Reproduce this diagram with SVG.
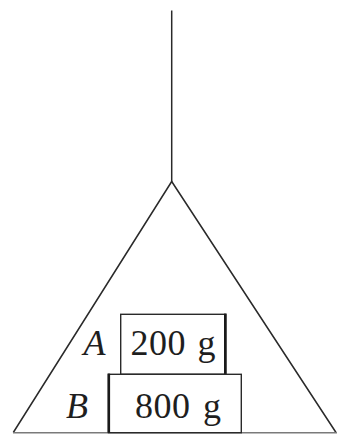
<svg xmlns="http://www.w3.org/2000/svg" width="337" height="436" viewBox="0 0 337 436">
<style>
.ln{stroke:#2a2a2a;stroke-width:1.5;fill:none;stroke-linecap:butt}
.bx{stroke:#2a2a2a;stroke-width:1.4;fill:#fff}
.thk{stroke:#1a1a1a;stroke-width:2.6}
.t{font-family:"Liberation Serif","Times New Roman",serif;font-size:36px;fill:#1e1e1e}
.it{font-style:italic}
</style>
<rect width="337" height="436" fill="#fff"/>
<g id="connectors">
<line class="ln" x1="171.7" y1="10.5" x2="171.7" y2="182"/>
<polyline class="ln" points="13.3,432.5 171.7,181.5 336,432.5"/>
<line x1="13" y1="432.7" x2="337" y2="432.7" stroke="#7a7a7a" stroke-width="1.6"/>
</g>
<g id="boxA">
<rect class="bx" x="120.7" y="314.3" width="105" height="60"/>
<line class="thk" x1="225.3" y1="313.6" x2="225.3" y2="374.3"/>
<text class="t" x="130.5" y="355" letter-spacing="0.5" word-spacing="2">200 g</text>
</g>
<g id="boxB">
<rect class="bx" x="108.5" y="374.3" width="132.8" height="58.4"/>
<line class="thk" x1="108.8" y1="373.6" x2="108.8" y2="432.7"/>
<text class="t" x="135" y="418.3" letter-spacing="0.5" word-spacing="3">800 g</text>
</g>
<g id="labelA"><text class="t it" x="83.5" y="355">A</text></g>
<g id="labelB"><text class="t it" x="66" y="418.3">B</text></g>
</svg>
